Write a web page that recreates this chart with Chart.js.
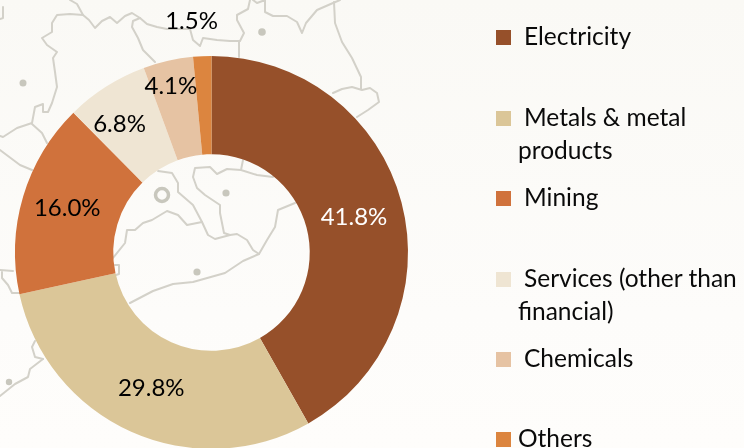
<!DOCTYPE html>
<html>
<head>
<meta charset="utf-8">
<style>
html,body{margin:0;padding:0;width:744px;height:448px;overflow:hidden;background:linear-gradient(#faf9f5,#fdfcfa 70%,#fefdfb);}
#map{position:absolute;left:0;top:0;}
#c{position:absolute;left:0;top:0;}
.t{position:absolute;font-family:Lato,"Open Sans",sans-serif;font-size:24.5px;line-height:28px;color:#0a0a0a;white-space:nowrap;}
.s{position:absolute;width:15px;height:15px;}
</style>
<script src="https://cdn.jsdelivr.net/npm/chart.js@4"></script>
</head>
<body>
<svg id="map" width="744" height="448" fill="none" stroke="#d3d1c9" stroke-width="2" stroke-linejoin="round" stroke-linecap="round"></svg>
<canvas id="c" width="744" height="460"></canvas>
<div id="legend"></div>
<script>
const categories = ["Electricity", "Metals & metal products", "Mining", "Services (other than financial)", "Chemicals", "Others"];
const shares = [41.8, 29.8, 16.0, 6.8, 4.1, 1.5];
const sliceColors = ["#96502a", "#dbc698", "#d0723c", "#efe5d3", "#e6c3a3", "#dc853f"];
const legendLines = [["Electricity"], ["Metals & metal", "products"], ["Mining"], ["Services (other than", "financial)"], ["Chemicals"], ["Others"]];

/* layout only */
const labelOffsets = [[0,2],[0,1],[-3,-2],[-13,-4],[-8,-23],[-13,-84]];
const labelInk = ["#ffffff","#000","#000","#000","#000","#000"];
const legendTop = [30,111,191,272,352,432];
const legendTextX = [524,524,524,524,524,518];
const wrapX = 518, wrapStep = 33;

/* decorative background map */
const mapPaths = [
"70,0 77,4 83,15 89,20 95,28 102,21 110,17 117,23 125,16 132,13 140,18 147,24 157,27 167,29 190,29 193,40 200,46 203,38 217,40 230,41 240,41 244,33 237,20 237,15 248,9 250,0",
"239,41 239,57",
"253,0 257,3 265,0 265,12 273,16 287,16 297,22 302,33 306,23 317,10 333,3 340,0",
"334,2 335,23 342,42 352,58 361,77 361,89",
"333,93 342,89 352,87 362,90 370,88 377,93 379,102 368,110 357,117",
"140,18 133,21 132,27 138,38 143,50 155,62",
"83,15 70,14 57,15 52,23 52,32 42,38 47,45 57,52 53,58 55,72 57,87 52,103 48,112 43,112 43,104 35,107 32,123 17,128 3,137 0,136",
"32,124 42,133 47,143",
"0,150 20,165 32,170",
"3,7 3,18 0,19",
"158,171 172,173 178,183 178,192 193,205 202,222 208,235 215,239 230,235 237,234 247,240 253,250 259,254",
"113,258 125,243 127,230 135,230 143,223 152,220 167,211 178,215 187,225 202,222",
"243,160 241,170 257,175 273,177",
"241,170 227,169 217,174 210,167 195,168 193,177 197,188 205,195 220,205 220,213 224,233 230,235",
"130,303 153,291 173,284 193,282 225,273 243,261 259,254 267,240 275,227 278,210 295,203",
"115,265 119,265 119,274 116,275",
"0,396 15,384 28,377 30,369 43,359",
"35,341 32,347 35,357 43,359",
"0,270 13,271",
"2,272 2,278 8,285 12,293 20,293"
];
const mapDots = [[23,83,3.5],[262,32,3.8],[226,193,3.6],[197,272,3.6],[9,382,3.2]];
const svg = document.getElementById("map");
const NS = "http://www.w3.org/2000/svg";
mapPaths.forEach(p => { const e = document.createElementNS(NS,"polyline"); e.setAttribute("points",p); svg.appendChild(e); });
mapDots.forEach(d => { const e = document.createElementNS(NS,"circle"); e.setAttribute("cx",d[0]); e.setAttribute("cy",d[1]); e.setAttribute("r",d[2]); e.setAttribute("fill","#c8c7bd"); e.setAttribute("stroke","none"); svg.appendChild(e); });
const ring = document.createElementNS(NS,"circle");
ring.setAttribute("cx",162); ring.setAttribute("cy",195); ring.setAttribute("r",6.5); ring.setAttribute("stroke","#c8c7bd"); ring.setAttribute("stroke-width",3.5); svg.appendChild(ring);

/* legend */
const legend = document.getElementById("legend");
categories.forEach((c,i) => {
  const sq = document.createElement("div"); sq.className = "s";
  sq.style.left = "496px"; sq.style.top = legendTop[i]+"px"; sq.style.background = sliceColors[i];
  legend.appendChild(sq);
  legendLines[i].forEach((line,j) => {
    const t = document.createElement("div"); t.className = "t"; t.textContent = line;
    t.style.left = (j ? wrapX : legendTextX[i])+"px";
    t.style.top = (legendTop[i]-8+j*wrapStep)+"px";
    legend.appendChild(t);
  });
});

const sliceLabels = {
  id:"sliceLabels",
  afterDatasetsDraw(chart){
    const ctx = chart.ctx, arcs = chart.getDatasetMeta(0).data;
    ctx.save();
    ctx.font = "24px Lato, 'Open Sans', sans-serif";
    ctx.textAlign = "center"; ctx.textBaseline = "middle";
    arcs.forEach((arc,i) => {
      const p = arc.tooltipPosition();
      ctx.fillStyle = labelInk[i];
      ctx.fillText(shares[i].toFixed(1)+"%", p.x+labelOffsets[i][0], p.y+labelOffsets[i][1]);
    });
    ctx.restore();
  }
};

new Chart(document.getElementById("c"),{
  type:"doughnut",
  data:{labels:categories,datasets:[{data:shares,backgroundColor:sliceColors,borderWidth:0}]},
  options:{
    responsive:false,animation:false,cutout:"50%",rotation:0,
    layout:{padding:{left:15,right:336,top:56,bottom:11}},
    plugins:{legend:{display:false},tooltip:{enabled:false}}
  },
  plugins:[sliceLabels]
});
</script>
</body>
</html>
